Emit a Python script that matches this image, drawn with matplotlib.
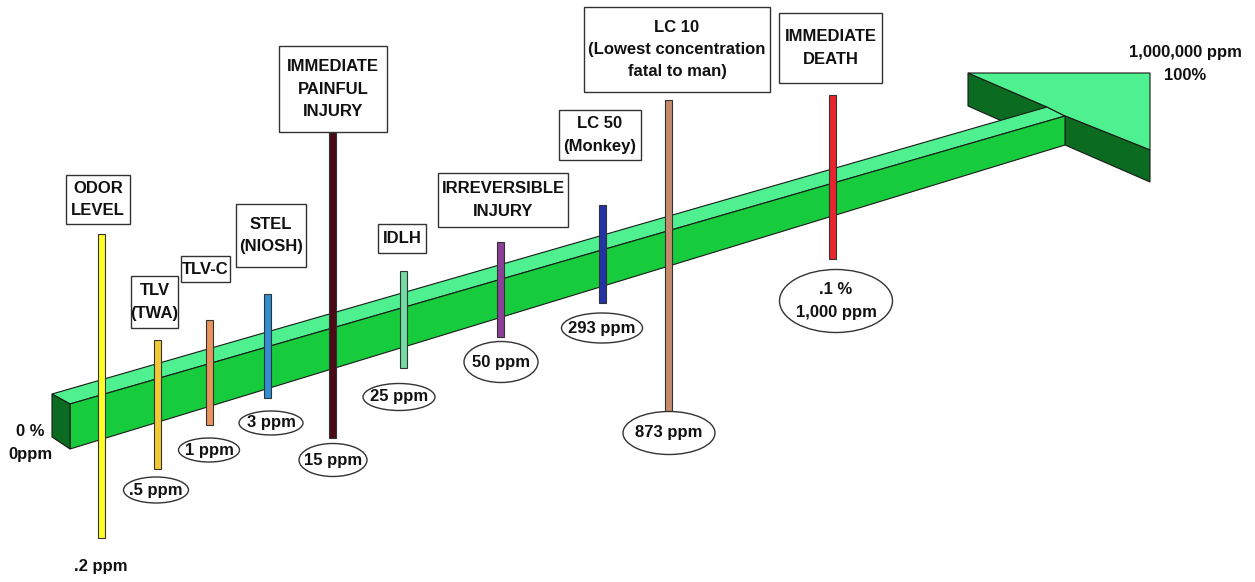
import matplotlib.pyplot as plt
from matplotlib.patches import Polygon, Rectangle, Ellipse

plt.rcParams["font.family"] = ["Liberation Sans", "DejaVu Sans"]

# exposure levels, left to right along the arrow
labels = ["ODOR\nLEVEL", "TLV\n(TWA)", "TLV-C", "STEL\n(NIOSH)",
          "IMMEDIATE\nPAINFUL\nINJURY", "IDLH", "IRREVERSIBLE\nINJURY",
          "LC 50\n(Monkey)", "LC 10\n(Lowest concentration\nfatal to man)",
          "IMMEDIATE\nDEATH"]
values = [".2 ppm", ".5 ppm", "1 ppm", "3 ppm", "15 ppm", "25 ppm",
          "50 ppm", "293 ppm", "873 ppm", ".1 %\n1,000 ppm"]
start_label = "0 %\n0ppm"
end_label = "1,000,000 ppm\n100%"

# layout (pixel coords of the picture)
bar_x = [101, 157, 209, 267, 332, 403, 500, 602, 668, 832]
bar_top = [234, 340, 320, 294, 132, 271, 242, 205, 100, 95]
bar_bot = [538, 469, 425, 398, 438, 368, 337, 303, 413, 259]
bar_colors = ["#ffff26", "#f2c935", "#e8935a", "#2f8fd2", "#4a0a16",
              "#72dca4", "#8b3f98", "#2432a8", "#c48a6c", "#e8242c"]
boxes = [(66, 175, 130, 224), (131, 276, 178, 328), (181, 256, 230, 282),
         (236, 204, 306, 267), (279, 46, 387, 132), (378, 224, 426, 253),
         (438, 173, 568, 227), (559, 110, 641, 160), (584, 7, 770, 92),
         (779, 13, 882, 83)]
ovals = [None, (156, 490, 65, 26), (209, 450, 61, 24), (271, 423, 64, 24),
         (333, 460, 68, 33), (399, 397, 72, 27), (501, 362, 74, 41),
         (602, 328, 81, 30), (669, 433, 92, 43), (836, 301, 113, 63)]

light = "#4ff08f"
mid = "#16cb3c"
dark = "#0b6b20"

fig = plt.figure(figsize=(12.55, 5.82), dpi=100)
ax = fig.add_axes([0, 0, 1, 1])
ax.set_xlim(0, 1255)
ax.set_ylim(582, 0)
ax.axis("off")

# 3d arrow
def face(pts, color):
    ax.add_patch(Polygon(pts, closed=True, facecolor=color,
                         edgecolor="#1a1a1a", lw=0.8, zorder=1))

face([(968, 73), (1047, 107), (1047, 141), (968, 106)], dark)
face([(52, 394), (1047, 107), (1065, 116), (70, 404)], light)
face([(968, 73), (1150, 73), (1150, 150), (1065, 116), (1047, 107)], light)
face([(1065, 116), (1150, 150), (1150, 182), (1065, 145)], dark)
face([(70, 404), (1065, 116), (1065, 145), (70, 449)], mid)
face([(52, 394), (70, 404), (70, 449), (52, 437)], dark)

txt = dict(fontsize=12, fontweight="bold", ha="center", va="center",
           linespacing=1.6, color="#111111")

for i in range(len(labels)):
    x = bar_x[i]
    ax.add_patch(Rectangle((x - 3.5, bar_top[i]), 7, bar_bot[i] - bar_top[i],
                           facecolor=bar_colors[i], edgecolor="#333333",
                           lw=0.8, zorder=3))
    x0, y0, x1, y1 = boxes[i]
    ax.add_patch(Rectangle((x0, y0), x1 - x0, y1 - y0, facecolor="white",
                           edgecolor="#333333", lw=1, zorder=3))
    ax.text((x0 + x1) / 2, (y0 + y1) / 2, labels[i], zorder=4, **txt)
    if ovals[i] is None:
        ax.text(x, 567, values[i], zorder=4, **txt)
    else:
        cx, cy, w, h = ovals[i]
        ax.add_patch(Ellipse((cx, cy), w, h, facecolor="white",
                             edgecolor="#333333", lw=1, zorder=3))
        ax.text(cx, cy, values[i], zorder=4, **txt)

ax.text(30, 443, start_label, zorder=4, **txt)
ax.text(1185, 64, end_label, zorder=4, **txt)

fig.savefig("out.png", dpi=100)
